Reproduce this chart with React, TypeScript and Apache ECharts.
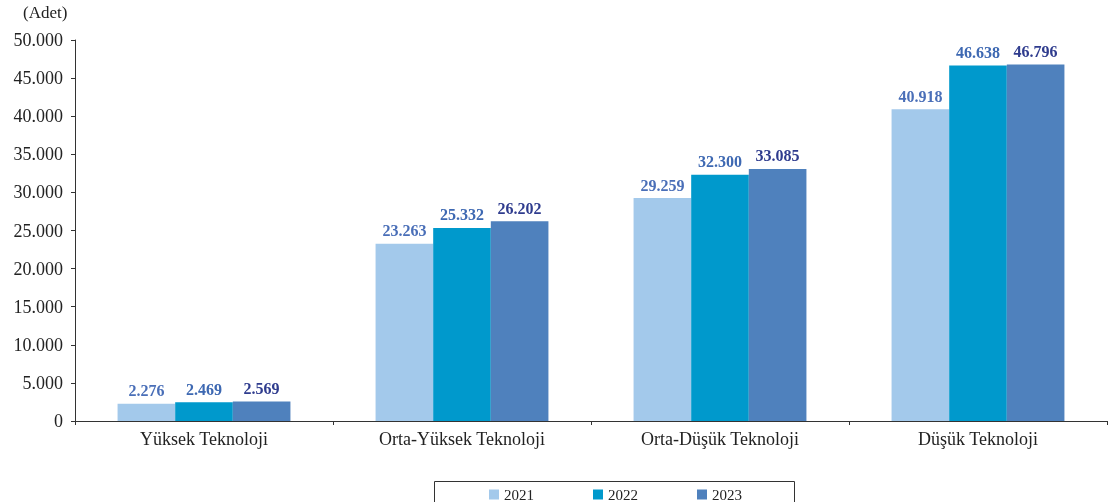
import React, { useEffect, useRef } from "react";
import * as echarts from "echarts";

const categories = ["Yüksek Teknoloji", "Orta-Yüksek Teknoloji", "Orta-Düşük Teknoloji", "Düşük Teknoloji"];
const years = ["2021", "2022", "2023"];
const values2021 = [2276, 23263, 29259, 40918];
const values2022 = [2469, 25332, 32300, 46638];
const values2023 = [2569, 26202, 33085, 46796];
const barColors = ["#a3c9eb", "#0099cc", "#4f81bd"];
const labelColors = ["#4a6fb8", "#3d68b2", "#2f3c8e"];

const fmt = (v: number) => v.toLocaleString("de-DE");

export default function App() {
  const ref = useRef<HTMLDivElement>(null);
  useEffect(() => {
    if (!ref.current) return;
    const chart = echarts.init(ref.current, null, { renderer: "svg" });
    const serif = "'Liberation Serif', 'Times New Roman', serif";
    const data = [values2021, values2022, values2023];
    chart.setOption({
      animation: false,
      textStyle: { fontFamily: serif },
      grid: { left: 75, right: 3, top: 40, bottom: 81, containLabel: false },
      legend: {
        left: 484,
        top: 482,
        itemWidth: 10,
        itemHeight: 10,
        itemGap: 59,
        icon: "rect",
        textStyle: { fontFamily: serif, fontSize: 15, color: "#222" },
        data: years,
      },
      graphic: [
        {
          type: "rect",
          left: 432,
          top: 479,
          shape: { width: 360, height: 30 },
          style: { fill: "none", stroke: "#333", lineWidth: 1 },
        },
        {
          type: "text",
          left: 23,
          top: 4,
          style: { text: "(Adet)", fontFamily: serif, fontSize: 17, fill: "#222" },
        },
      ],
      xAxis: {
        type: "category",
        data: categories,
        axisLine: { lineStyle: { color: "#333", width: 1 } },
        axisTick: { show: true, alignWithLabel: false, length: 4, lineStyle: { color: "#333" } },
        axisLabel: { fontFamily: serif, fontSize: 18, color: "#222", margin: 9 },
      },
      yAxis: {
        type: "value",
        min: 0,
        max: 50000,
        interval: 5000,
        splitLine: { show: false },
        axisLine: { show: true, lineStyle: { color: "#333", width: 1 } },
        axisTick: { show: true, length: 4, lineStyle: { color: "#333" } },
        axisLabel: { fontFamily: serif, fontSize: 18, color: "#222", margin: 12, formatter: (v: number) => fmt(v) },
      },
      series: years.map((y, i) => ({
        name: y,
        type: "bar",
        data: data[i],
        barGap: "0%",
        barCategoryGap: "33%",
        itemStyle: { color: barColors[i] },
        label: {
          show: true,
          position: "top",
          distance: 5,
          fontFamily: serif,
          fontSize: 16,
          fontWeight: "bold",
          color: labelColors[i],
          formatter: (p: any) => fmt(p.value),
        },
      })),
    });
    return () => chart.dispose();
  }, []);
  return <div ref={ref} style={{ width: 1110, height: 502, position: "fixed", left: 0, top: 0 }} />;
}
